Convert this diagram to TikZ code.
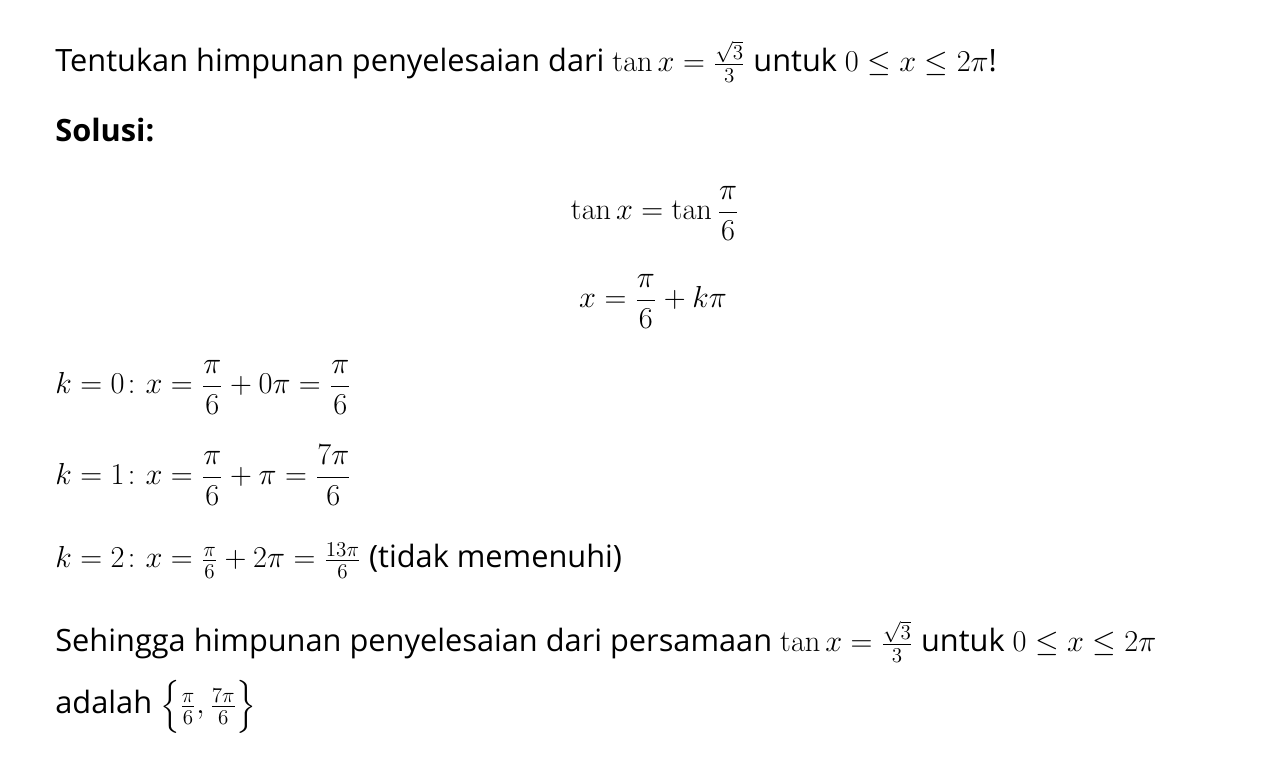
\documentclass[tikz,border=0pt]{standalone}
\usepackage{amsmath}
\usepackage{amssymb}
\usepackage[no-math]{fontspec}
\setmainfont{Open Sans}
\DeclareMathSizes{17.5}{16.8}{13}{10}
\usepackage{tikz}

\tikzset{
    line/.style={anchor=base west, inner sep=0pt},
    centereq/.style={anchor=base, inner sep=0pt}
}

\begin{document}
\begin{tikzpicture}[x=0.02cm, y=-0.02cm, font=\fontsize{17.5}{21}\selectfont]
        \useasboundingbox[fill=white] (0, 0) rectangle (1269, 780);
        \node[line] (soal) at (55, 72) {Tentukan himpunan penyelesaian dari $\tan x = \frac{\sqrt{3}}{3}$ untuk $0 \leq x \leq 2\pi$!};
        \node[line] (solusi) at (55, 142) {\textbf{Solusi:}};
        \node[centereq] (eqa) at (655, 220) {$\displaystyle \tan x = \tan \frac{\pi}{6}$};
        \node[centereq] (eqb) at (653, 308) {$\displaystyle x = \frac{\pi}{6} + k\pi$};
        \node[line] (knol) at (55, 394) {$\displaystyle k = 0 \colon x = \frac{\pi}{6} + 0\pi = \frac{\pi}{6}$};
        \node[line] (ksatu) at (55, 485) {$\displaystyle k = 1 \colon x = \frac{\pi}{6} + \pi = \frac{7\pi}{6}$};
        \node[line] (kdua) at (55, 568) {$k = 2 \colon x = \frac{\pi}{6} + 2\pi = \frac{13\pi}{6}$ (tidak memenuhi)};
        \node[line] (simpulan) at (55, 652) {Sehingga himpunan penyelesaian dari persamaan $\tan x = \frac{\sqrt{3}}{3}$ untuk $0 \leq x \leq 2\pi$};
        \node[line] (jawab) at (55, 714) {adalah $\Bigl\{\frac{\pi}{6}, \frac{7\pi}{6}\Bigr\}$};
    \end{tikzpicture}
\end{document}
